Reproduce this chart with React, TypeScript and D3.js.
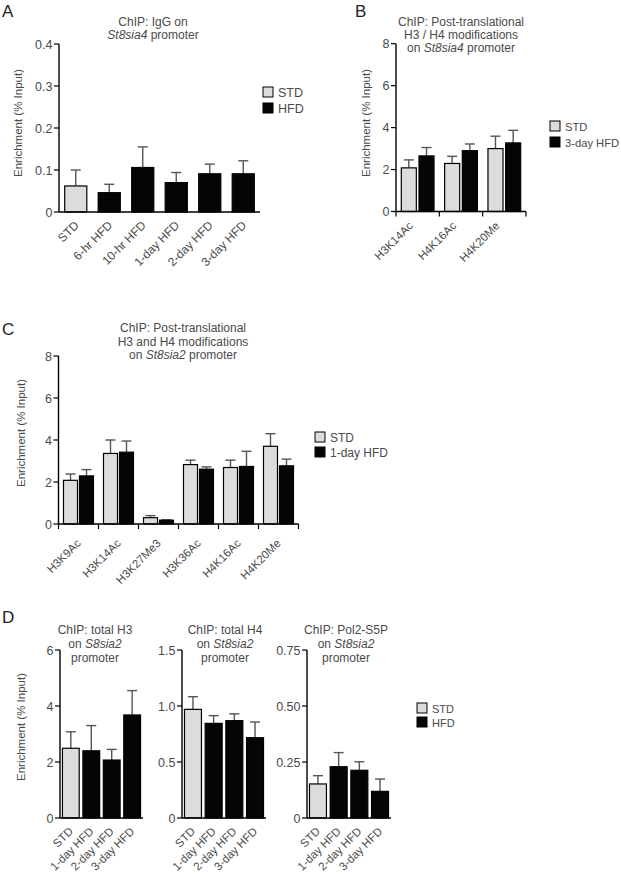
import React from "react";
import * as d3 from "d3";

// ---------- DATA ----------
const aCategories = ["STD", "6-hr HFD", "10-hr HFD", "1-day HFD", "2-day HFD", "3-day HFD"];
const aMeans = [0.062, 0.046, 0.106, 0.07, 0.091, 0.091];
const aSems = [0.038, 0.02, 0.049, 0.024, 0.023, 0.031];
const aTicks = [0, 0.1, 0.2, 0.3, 0.4];

const bMarks = ["H3K14Ac", "H4K16Ac", "H4K20Me"];
const bStdMeans = [2.08, 2.29, 3.0];
const bStdSems = [0.38, 0.34, 0.59];
const bHfdMeans = [2.65, 2.9, 3.27];
const bHfdSems = [0.4, 0.32, 0.6];
const bTicks = [0, 2, 4, 6, 8];

const cMarks = ["H3K9Ac", "H3K14Ac", "H3K27Me3", "H3K36Ac", "H4K16Ac", "H4K20Me"];
const cStdMeans = [2.08, 3.36, 0.3, 2.83, 2.69, 3.7];
const cStdSems = [0.3, 0.64, 0.1, 0.21, 0.35, 0.6];
const cHfdMeans = [2.29, 3.42, 0.18, 2.61, 2.74, 2.77];
const cHfdSems = [0.3, 0.53, 0.02, 0.11, 0.72, 0.32];
const cTicks = [0, 2, 4, 6, 8];

const dCategories = ["STD", "1-day HFD", "2-day HFD", "3-day HFD"];
const d1Means = [2.49, 2.4, 2.07, 3.68];
const d1Sems = [0.59, 0.9, 0.38, 0.87];
const d1Ticks = [0, 2, 4, 6];
const d2Means = [0.97, 0.845, 0.869, 0.717];
const d2Sems = [0.113, 0.069, 0.061, 0.14];
const d2Ticks = [0, 0.5, 1.0, 1.5];
const d3Means = [0.152, 0.229, 0.213, 0.119];
const d3Sems = [0.037, 0.063, 0.038, 0.055];
const d3Ticks = [0, 0.25, 0.5, 0.75];

// ---------- STYLE ----------
const FONT = "'Liberation Sans', Arial, Helvetica, sans-serif";
const TXT = "#4a4a4a";
const STD_FILL = "#dcdcdc";
const HFD_FILL = "#050505";
const ERR = "#555";

function YAxis({ x, scale, ticks, fmt }: any) {
  const [d0, d1] = scale.domain();
  return (
    <g>
      <line x1={x} x2={x} y1={scale(d0)} y2={scale(d1)} stroke="#000" strokeWidth={1.4} />
      {ticks.map((t: number) => (
        <g key={t}>
          <line x1={x - 5} x2={x} y1={scale(t)} y2={scale(t)} stroke="#000" strokeWidth={1.2} />
          <text x={x - 6.5} y={scale(t)} dy="0.36em" textAnchor="end" fontSize={12.5} fill={TXT}>
            {fmt(t)}
          </text>
        </g>
      ))}
    </g>
  );
}

function Bar({ x, w, y0, y, sem, ys, fill }: any) {
  const top = ys(y);
  const errTop = ys(y + sem);
  const cx = x + w / 2;
  return (
    <g>
      <line x1={cx} x2={cx} y1={top} y2={errTop} stroke={ERR} strokeWidth={1.4} />
      <line x1={cx - 5} x2={cx + 5} y1={errTop} y2={errTop} stroke={ERR} strokeWidth={1.4} />
      <rect x={x} y={top} width={w} height={y0 - top} fill={fill} stroke="#000" strokeWidth={1.2} />
    </g>
  );
}

function XLabel({ x, y, text, size = 11.5 }: any) {
  return (
    <text transform={`translate(${x},${y}) rotate(-45)`} textAnchor="end" fontSize={size} fill={TXT}>
      {text}
    </text>
  );
}

function YLabel({ x, y }: any) {
  return (
    <text transform={`translate(${x},${y}) rotate(-90)`} textAnchor="middle" fontSize={11.5} fill={TXT}>
      Enrichment (% Input)
    </text>
  );
}

function Legend({ x, y, items, step, size = 12 }: any) {
  return (
    <g>
      {items.map((it: any, i: number) => (
        <g key={it.label}>
          <rect x={x} y={y + i * step} width={10} height={10} fill={it.fill} stroke="#000" strokeWidth={1} />
          <text x={x + 15} y={y + i * step + 9.5} fontSize={size} fill={TXT}>
            {it.label}
          </text>
        </g>
      ))}
    </g>
  );
}

function Letter({ x, y, t }: any) {
  return (
    <text x={x} y={y} fontSize={17} fill="#222">
      {t}
    </text>
  );
}

function SimplePanel({ axisX, endX, zeroY, topY, max, ticks, fmt, cats, means, sems, labelDx, labelDy, labelSize }: any) {
  const ys = d3.scaleLinear().domain([0, max]).range([zeroY, topY]);
  const xs = d3.scaleBand<string>().domain(cats).range([axisX, endX]).paddingInner(0.18).paddingOuter(0.12);
  return (
    <g>
      {cats.map((c: string, i: number) => (
        <Bar key={c} x={xs(c)} w={xs.bandwidth()} y0={zeroY} y={means[i]} sem={sems[i]} ys={ys} fill={i === 0 ? STD_FILL : HFD_FILL} />
      ))}
      <line x1={axisX} x2={endX} y1={zeroY} y2={zeroY} stroke="#000" strokeWidth={1.4} />
      <YAxis x={axisX} scale={ys} ticks={ticks} fmt={fmt} />
      {cats.map((c: string) => (
        <XLabel key={c} x={(xs(c) as number) + xs.bandwidth() / 2 + labelDx} y={zeroY + labelDy} text={c} size={labelSize} />
      ))}
    </g>
  );
}

function GroupPanel({ axisX, endX, zeroY, topY, max, ticks, marks, stdM, stdS, hfdM, hfdS, pi, po, labelDx, labelDy }: any) {
  const ys = d3.scaleLinear().domain([0, max]).range([zeroY, topY]);
  const xs = d3.scaleBand<string>().domain(marks).range([axisX, endX]).padding(0);
  const xi = d3.scaleBand<string>().domain(["STD", "HFD"]).range([0, xs.bandwidth()]).paddingInner(pi).paddingOuter(po);
  const edges = [...marks.map((m: string) => xs(m) as number), endX];
  return (
    <g>
      {marks.map((m: string, i: number) => (
        <g key={m}>
          <Bar x={(xs(m) as number) + (xi("STD") as number)} w={xi.bandwidth()} y0={zeroY} y={stdM[i]} sem={stdS[i]} ys={ys} fill={STD_FILL} />
          <Bar x={(xs(m) as number) + (xi("HFD") as number)} w={xi.bandwidth()} y0={zeroY} y={hfdM[i]} sem={hfdS[i]} ys={ys} fill={HFD_FILL} />
        </g>
      ))}
      <line x1={axisX} x2={endX} y1={zeroY} y2={zeroY} stroke="#000" strokeWidth={1.4} />
      {edges.map((e: number, i: number) => (
        <line key={i} x1={e} x2={e} y1={zeroY} y2={zeroY + 5} stroke="#000" strokeWidth={1.2} />
      ))}
      <YAxis x={axisX} scale={ys} ticks={ticks} fmt={(t: number) => String(t)} />
      {marks.map((m: string) => (
        <XLabel key={m} x={(xs(m) as number) + xs.bandwidth() / 2 + labelDx} y={zeroY + labelDy} text={m} />
      ))}
    </g>
  );
}

export default function App() {
  const legendSH = (h: string) => [
    { label: "STD", fill: STD_FILL },
    { label: h, fill: HFD_FILL },
  ];
  return (
    <svg width={621} height={874} style={{ position: "absolute", left: 0, top: 0, background: "#fff" }} fontFamily={FONT}>
      <rect width={621} height={874} fill="#fff" />
      {/* Panel A */}
      <Letter x={2} y={17} t="A" />
      <text x={153} y={26} textAnchor="middle" fontSize={12} fill={TXT}>ChIP: IgG on</text>
      <text x={153} y={38.5} textAnchor="middle" fontSize={12} fill={TXT}>
        <tspan fontStyle="italic">St8sia4</tspan> promoter
      </text>
      <YLabel x={22} y={123} />
      <g>
        {(() => {
          const ys = d3.scaleLinear().domain([0, 0.4]).range([212, 44]);
          const xs = d3.scaleBand<string>().domain(aCategories).range([59, 260]).paddingInner(0.34).paddingOuter(0.17);
          return (
            <g>
              {aCategories.map((c, i) => (
                <Bar key={c} x={xs(c)} w={xs.bandwidth()} y0={212} y={aMeans[i]} sem={aSems[i]} ys={ys} fill={i === 0 ? STD_FILL : HFD_FILL} />
              ))}
              <line x1={59} x2={260} y1={212} y2={212} stroke="#000" strokeWidth={1.4} />
              <YAxis x={59} scale={ys} ticks={aTicks} fmt={(t: number) => (t === 0 ? "0" : t.toFixed(1))} />
              {aCategories.map((c) => (
                <XLabel key={c} x={(xs(c) as number) + xs.bandwidth() / 2 + 4} y={226} text={c} size={12} />
              ))}
            </g>
          );
        })()}
      </g>
      <Legend x={263} y={87} step={16} size={12.5} items={legendSH("HFD")} />

      {/* Panel B */}
      <Letter x={355} y={17} t="B" />
      <text x={461} y={26} textAnchor="middle" fontSize={12} fill={TXT}>ChIP: Post-translational</text>
      <text x={461} y={39} textAnchor="middle" fontSize={12} fill={TXT}>H3 / H4 modifications</text>
      <text x={461} y={52} textAnchor="middle" fontSize={12} fill={TXT}>
        on <tspan fontStyle="italic">St8sia4</tspan> promoter
      </text>
      <YLabel x={370} y={123} />
      <GroupPanel axisX={396} endX={526} zeroY={211.5} topY={43.7} max={8} ticks={bTicks} marks={bMarks}
        stdM={bStdMeans} stdS={bStdSems} hfdM={bHfdMeans} hfdS={bHfdSems} pi={0.15} po={0.3} labelDx={-4} labelDy={15} />
      <Legend x={550} y={121} step={16} size={11.2} items={legendSH("3-day HFD")} />

      {/* Panel C */}
      <Letter x={2} y={335} t="C" />
      <text x={183} y={332} textAnchor="middle" fontSize={12} fill={TXT}>ChIP: Post-translational</text>
      <text x={183} y={345.5} textAnchor="middle" fontSize={12} fill={TXT}>H3 and H4 modifications</text>
      <text x={183} y={359} textAnchor="middle" fontSize={12} fill={TXT}>
        on <tspan fontStyle="italic">St8sia2</tspan> promoter
      </text>
      <YLabel x={25} y={433} />
      <GroupPanel axisX={58.5} endX={298.5} zeroY={524} topY={356} max={8} ticks={cTicks} marks={cMarks}
        stdM={cStdMeans} stdS={cStdSems} hfdM={cHfdMeans} hfdS={cHfdSems} pi={0.125} po={0.3125} labelDx={3} labelDy={20} />
      <Legend x={315} y={432} step={15} items={legendSH("1-day HFD")} />

      {/* Panel D */}
      <Letter x={2} y={623} t="D" />
      <YLabel x={25} y={727} />
      {[
        { cx: 95, lines: ["ChIP: total H3", "S8sia2"] },
        { cx: 225, lines: ["ChIP: total H4", "St8sia2"] },
        { cx: 346, lines: ["ChIP: Pol2-S5P", "St8sia2"] },
      ].map((t) => (
        <g key={t.cx}>
          <text x={t.cx} y={634} textAnchor="middle" fontSize={12} fill={TXT}>{t.lines[0]}</text>
          <text x={t.cx} y={648} textAnchor="middle" fontSize={12} fill={TXT}>
            on <tspan fontStyle="italic">{t.lines[1]}</tspan>
          </text>
          <text x={t.cx} y={662} textAnchor="middle" fontSize={12} fill={TXT}>promoter</text>
        </g>
      ))}
      <SimplePanel axisX={60} endX={143} zeroY={818} topY={650} max={6} ticks={d1Ticks} fmt={(t: number) => String(t)}
        cats={dCategories} means={d1Means} sems={d1Sems} labelDx={3} labelDy={14} labelSize={11.5} />
      <SimplePanel axisX={182} endX={266} zeroY={818} topY={650} max={1.5} ticks={d2Ticks}
        fmt={(t: number) => (t === 0 ? "0" : t.toFixed(1))}
        cats={dCategories} means={d2Means} sems={d2Sems} labelDx={3} labelDy={14} labelSize={11.5} />
      <SimplePanel axisX={307} endX={391} zeroY={818} topY={650} max={0.75} ticks={d3Ticks}
        fmt={(t: number) => (t === 0 ? "0" : t.toFixed(2))}
        cats={dCategories} means={d3Means} sems={d3Sems} labelDx={3} labelDy={14} labelSize={11.5} />
      <Legend x={417} y={703} step={14} size={11} items={legendSH("HFD")} />
    </svg>
  );
}
